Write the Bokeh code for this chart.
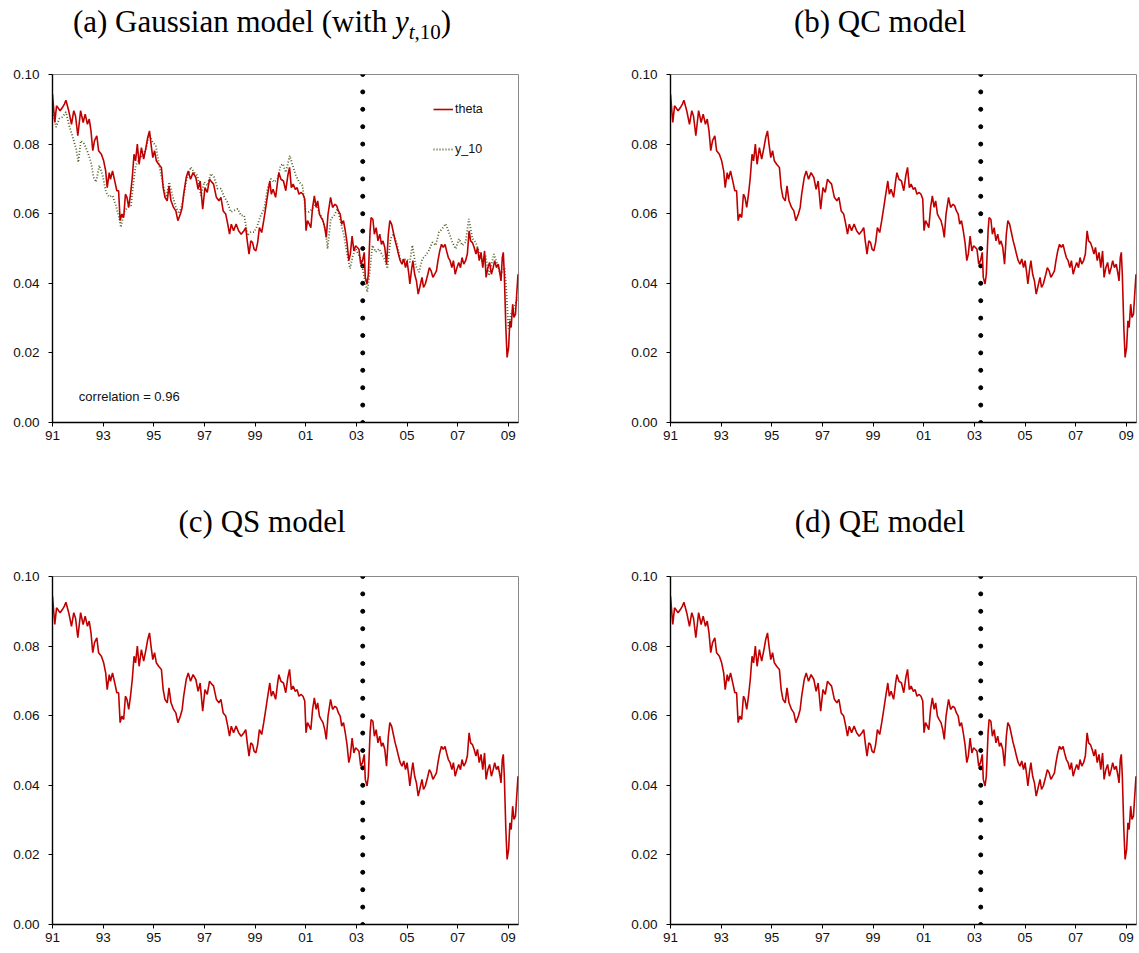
from bokeh.plotting import figure
from bokeh.models import FixedTicker, Label, Legend, LegendItem, Range1d, NumeralTickFormatter, Div
from bokeh.layouts import row, column
from bokeh.embed import file_html
from bokeh.resources import INLINE

# ---------------- data ----------------
theta_year = [
    1991.00, 1991.09, 1991.16, 1991.30, 1991.39, 1991.47, 1991.53, 1991.64, 1991.75, 1991.84,
    1991.91, 1992.00, 1992.11, 1992.21, 1992.29, 1992.38, 1992.45, 1992.52, 1992.59, 1992.66,
    1992.75, 1992.82, 1992.93, 1993.02, 1993.10, 1993.16, 1993.24, 1993.29, 1993.37, 1993.47,
    1993.54, 1993.61, 1993.67, 1993.74, 1993.81, 1993.88, 1993.94, 1994.01, 1994.08, 1994.15,
    1994.22, 1994.28, 1994.35, 1994.42, 1994.51, 1994.60, 1994.69, 1994.76, 1994.83, 1994.89,
    1994.96, 1995.03, 1995.10, 1995.19, 1995.30, 1995.37, 1995.44, 1995.53, 1995.60, 1995.68,
    1995.78, 1995.87, 1995.95, 1996.05, 1996.12, 1996.18, 1996.28, 1996.36, 1996.45, 1996.55,
    1996.66, 1996.75, 1996.83, 1996.93, 1997.02, 1997.11, 1997.20, 1997.30, 1997.36, 1997.47,
    1997.57, 1997.65, 1997.74, 1997.84, 1997.92, 1997.99, 1998.06, 1998.15, 1998.25, 1998.35,
    1998.45, 1998.56, 1998.63, 1998.69, 1998.76, 1998.83, 1998.90, 1998.96, 1999.03, 1999.10,
    1999.17, 1999.26, 1999.34, 1999.40, 1999.48, 1999.58, 1999.64, 1999.71, 1999.81, 1999.89,
    1999.94, 2000.02, 2000.12, 2000.21, 2000.29, 2000.36, 2000.43, 2000.50, 2000.59, 2000.66,
    2000.73, 2000.82, 2000.89, 2000.96, 2001.01, 2001.07, 2001.14, 2001.20, 2001.27, 2001.34,
    2001.41, 2001.47, 2001.54, 2001.61, 2001.68, 2001.75, 2001.81, 2001.88, 2001.98, 2002.06,
    2002.15, 2002.22, 2002.29, 2002.36, 2002.42, 2002.49, 2002.56, 2002.63, 2002.70, 2002.76,
    2002.83, 2002.90, 2002.97, 2003.04, 2003.10, 2003.17, 2003.24, 2003.31, 2003.35, 2003.42,
    2003.47, 2003.54, 2003.58, 2003.65, 2003.71, 2003.78, 2003.85, 2003.92, 2003.99, 2004.05,
    2004.12, 2004.19, 2004.26, 2004.32, 2004.39, 2004.46, 2004.53, 2004.60, 2004.66, 2004.73,
    2004.80, 2004.87, 2004.94, 2005.00, 2005.07, 2005.11, 2005.18, 2005.23, 2005.30, 2005.37,
    2005.44, 2005.50, 2005.59, 2005.65, 2005.72, 2005.82, 2005.88, 2005.95, 2006.02, 2006.09,
    2006.16, 2006.22, 2006.29, 2006.36, 2006.43, 2006.50, 2006.56, 2006.63, 2006.70, 2006.77,
    2006.83, 2006.90, 2006.97, 2007.04, 2007.11, 2007.17, 2007.24, 2007.31, 2007.38, 2007.45,
    2007.51, 2007.58, 2007.65, 2007.72, 2007.78, 2007.85, 2007.92, 2007.99, 2008.06, 2008.12,
    2008.19, 2008.26, 2008.33, 2008.40, 2008.46, 2008.53, 2008.60, 2008.67, 2008.71, 2008.76,
    2008.80, 2008.84, 2008.90, 2008.95, 2009.01, 2009.06, 2009.11, 2009.17, 2009.22, 2009.28,
    2009.33, 2009.38,
]
theta = [
    0.0943, 0.0862, 0.0910, 0.0896, 0.0905, 0.0915, 0.0926, 0.0896, 0.0857, 0.0896,
    0.0880, 0.0824, 0.0896, 0.0862, 0.0886, 0.0857, 0.0872, 0.0838, 0.0781, 0.0810,
    0.0824, 0.0781, 0.0771, 0.0752, 0.0723, 0.0675, 0.0718, 0.0699, 0.0723, 0.0690,
    0.0666, 0.0666, 0.0580, 0.0599, 0.0589, 0.0656, 0.0647, 0.0618, 0.0656, 0.0704,
    0.0771, 0.0752, 0.0800, 0.0742, 0.0790, 0.0757, 0.0790, 0.0819, 0.0838, 0.0800,
    0.0761, 0.0781, 0.0752, 0.0742, 0.0733, 0.0675, 0.0647, 0.0637, 0.0680, 0.0637,
    0.0618, 0.0608, 0.0580, 0.0599, 0.0618, 0.0656, 0.0704, 0.0723, 0.0699, 0.0718,
    0.0704, 0.0670, 0.0694, 0.0613, 0.0675, 0.0661, 0.0699, 0.0690, 0.0685, 0.0647,
    0.0637, 0.0647, 0.0608, 0.0599, 0.0570, 0.0541, 0.0570, 0.0551, 0.0570, 0.0551,
    0.0541, 0.0551, 0.0560, 0.0522, 0.0484, 0.0522, 0.0517, 0.0498, 0.0493, 0.0517,
    0.0560, 0.0546, 0.0580, 0.0608, 0.0647, 0.0694, 0.0656, 0.0670, 0.0647, 0.0694,
    0.0718, 0.0699, 0.0694, 0.0666, 0.0709, 0.0733, 0.0675, 0.0685, 0.0670, 0.0675,
    0.0656, 0.0661, 0.0656, 0.0642, 0.0551, 0.0580, 0.0570, 0.0560, 0.0618, 0.0651,
    0.0618, 0.0637, 0.0599, 0.0589, 0.0580, 0.0560, 0.0532, 0.0599, 0.0647, 0.0618,
    0.0627, 0.0623, 0.0608, 0.0599, 0.0570, 0.0580, 0.0551, 0.0517, 0.0465, 0.0484,
    0.0536, 0.0493, 0.0508, 0.0503, 0.0498, 0.0455, 0.0465, 0.0489, 0.0417, 0.0398,
    0.0426, 0.0551, 0.0589, 0.0584, 0.0541, 0.0560, 0.0522, 0.0541, 0.0512, 0.0522,
    0.0503, 0.0455, 0.0541, 0.0580, 0.0570, 0.0546, 0.0522, 0.0503, 0.0484, 0.0465,
    0.0455, 0.0470, 0.0445, 0.0465, 0.0426, 0.0398, 0.0441, 0.0465, 0.0426, 0.0407,
    0.0369, 0.0388, 0.0417, 0.0388, 0.0398, 0.0426, 0.0445, 0.0436, 0.0417, 0.0426,
    0.0436, 0.0465, 0.0493, 0.0512, 0.0503, 0.0512, 0.0493, 0.0474, 0.0465, 0.0445,
    0.0465, 0.0426, 0.0445, 0.0460, 0.0445, 0.0474, 0.0455, 0.0465, 0.0484, 0.0551,
    0.0522, 0.0517, 0.0503, 0.0484, 0.0503, 0.0465, 0.0489, 0.0445, 0.0493, 0.0417,
    0.0445, 0.0460, 0.0426, 0.0445, 0.0465, 0.0445, 0.0455, 0.0426, 0.0407, 0.0474,
    0.0489, 0.0426, 0.0273, 0.0187, 0.0216, 0.0292, 0.0273, 0.0340, 0.0302, 0.0311,
    0.0369, 0.0426,
]

y10_year = [
    1991.01, 1991.14, 1991.27, 1991.40, 1991.53, 1991.66, 1991.80, 1991.93, 1992.02, 1992.12,
    1992.25, 1992.39, 1992.52, 1992.62, 1992.72, 1992.85, 1992.98, 1993.11, 1993.24, 1993.37,
    1993.50, 1993.64, 1993.70, 1993.83, 1993.97, 1994.10, 1994.20, 1994.29, 1994.42, 1994.56,
    1994.69, 1994.82, 1994.95, 1995.08, 1995.21, 1995.35, 1995.48, 1995.61, 1995.74, 1995.87,
    1996.00, 1996.14, 1996.27, 1996.46, 1996.59, 1996.72, 1996.86, 1996.99, 1997.12, 1997.25,
    1997.38, 1997.52, 1997.65, 1997.78, 1997.91, 1998.04, 1998.17, 1998.31, 1998.44, 1998.57,
    1998.70, 1998.83, 1998.96, 1999.09, 1999.22, 1999.36, 1999.49, 1999.62, 1999.75, 1999.88,
    2000.01, 2000.10, 2000.21, 2000.37, 2000.48, 2000.61, 2000.74, 2000.87, 2001.00, 2001.13,
    2001.26, 2001.39, 2001.52, 2001.66, 2001.79, 2001.86, 2001.99, 2002.12, 2002.25, 2002.38,
    2002.51, 2002.64, 2002.75, 2002.86, 2002.97, 2003.17, 2003.30, 2003.43, 2003.54, 2003.63,
    2003.76, 2003.89, 2004.03, 2004.16, 2004.22, 2004.35, 2004.46, 2004.59, 2004.72, 2004.85,
    2004.98, 2005.11, 2005.21, 2005.34, 2005.47, 2005.60, 2005.73, 2005.86, 2006.00, 2006.13,
    2006.26, 2006.39, 2006.52, 2006.65, 2006.79, 2006.92, 2007.05, 2007.18, 2007.31, 2007.44,
    2007.58, 2007.71, 2007.84, 2007.97, 2008.10, 2008.23, 2008.43, 2008.69, 2008.85, 2008.92,
    2009.00, 2009.09, 2009.22, 2009.38,
]
y10 = [
    0.0901, 0.0849, 0.0873, 0.0878, 0.0892, 0.0853, 0.0820, 0.0787, 0.0748, 0.0810,
    0.0801, 0.0777, 0.0748, 0.0705, 0.0691, 0.0739, 0.0710, 0.0662, 0.0648, 0.0652,
    0.0624, 0.0585, 0.0561, 0.0605, 0.0619, 0.0624, 0.0691, 0.0739, 0.0758, 0.0767,
    0.0787, 0.0830, 0.0806, 0.0796, 0.0739, 0.0691, 0.0643, 0.0691, 0.0652, 0.0619,
    0.0600, 0.0633, 0.0691, 0.0734, 0.0719, 0.0710, 0.0652, 0.0691, 0.0681, 0.0715,
    0.0705, 0.0672, 0.0672, 0.0648, 0.0633, 0.0605, 0.0609, 0.0614, 0.0595, 0.0595,
    0.0537, 0.0547, 0.0547, 0.0566, 0.0595, 0.0614, 0.0672, 0.0700, 0.0691, 0.0700,
    0.0739, 0.0743, 0.0719, 0.0767, 0.0739, 0.0710, 0.0691, 0.0681, 0.0605, 0.0605,
    0.0614, 0.0633, 0.0605, 0.0585, 0.0547, 0.0499, 0.0585, 0.0595, 0.0614, 0.0576,
    0.0537, 0.0480, 0.0442, 0.0480, 0.0499, 0.0470, 0.0422, 0.0375, 0.0442, 0.0509,
    0.0490, 0.0499, 0.0480, 0.0461, 0.0442, 0.0528, 0.0542, 0.0518, 0.0470, 0.0466,
    0.0470, 0.0461, 0.0509, 0.0451, 0.0432, 0.0470, 0.0480, 0.0494, 0.0518, 0.0509,
    0.0547, 0.0557, 0.0571, 0.0547, 0.0518, 0.0499, 0.0528, 0.0509, 0.0518, 0.0585,
    0.0528, 0.0518, 0.0490, 0.0461, 0.0480, 0.0422, 0.0484, 0.0426, 0.0445, 0.0380,
    0.0270, 0.0310, 0.0330, 0.0360,
]

x_ticks = [1991, 1993, 1995, 1997, 1999, 2001, 2003, 2005, 2007, 2009]
x_tick_labels = ["91", "93", "95", "97", "99", "01", "03", "05", "07", "09"]
y_ticks = [0.0, 0.02, 0.04, 0.06, 0.08, 0.10]
break_year = 2003.25
break_dots = [i * 0.005 for i in range(21)]
correlation = 0.96
title_a = "(a) Gaussian model (with <i>y</i><sub style='font-size:21px'><i>t</i>,10</sub>)"
titles = ["(b) QC model", "(c) QS model", "(d) QE model"]

X0, X1 = 1991.0, 2009.4
RED = "#C00000"
GREEN = "#4F6228"
SANS = "Liberation Sans"
SERIF = "Liberation Serif"


def make_panel(width, height, bl, br, bt, bb):
    p = figure(width=width, height=height, output_backend="svg", toolbar_location=None,
               tools="", x_range=Range1d(X0, X1), y_range=Range1d(0, 0.1))
    p.margin = 0
    p.min_border_left = bl
    p.min_border_right = br
    p.min_border_top = bt
    p.min_border_bottom = bb
    p.xgrid.visible = False
    p.ygrid.visible = False
    p.outline_line_color = "#8a8a8a"
    p.outline_line_width = 1
    p.background_fill_color = "white"
    p.border_fill_color = "white"
    for ax in (p.xaxis[0], p.yaxis[0]):
        ax.axis_line_color = "black"
        ax.axis_line_width = 1.4
        ax.major_tick_line_color = "black"
        ax.major_tick_line_width = 1
        ax.major_tick_in = 0
        ax.major_tick_out = 4
        ax.minor_tick_line_color = None
        ax.major_label_text_font = SANS
        ax.major_label_text_font_size = "13.5px"
        ax.major_label_text_color = "#111111"
    p.xaxis.ticker = FixedTicker(ticks=x_ticks)
    p.xaxis.major_label_overrides = dict(zip(x_ticks, x_tick_labels))
    p.xaxis.major_label_standoff = 4
    p.yaxis.ticker = FixedTicker(ticks=y_ticks)
    p.yaxis.formatter = NumeralTickFormatter(format="0.00")
    p.yaxis.major_label_standoff = 9
    # vertical dotted break line
    p.scatter(x=[break_year] * len(break_dots), y=break_dots, size=4, color="black")
    return p


def title_div(html, width, height, center, pad_top):
    inner = (f"<div style=\"margin-left:{center - 250}px;width:500px;text-align:center;"
             f"padding-top:{pad_top}px;font-family:'{SERIF}',serif;font-size:31px;"
             f"line-height:31px;white-space:nowrap;color:#000;\">{html}</div>")
    return Div(text=inner, width=width, height=height, margin=0)


# ---------- panel (a) ----------
pa = make_panel(600, 426, 52, 82, 30, 48)
r_y10 = pa.line(y10_year, y10, line_color=GREEN, line_width=1.8, line_dash="1 2")
r_th = pa.line(theta_year, theta, line_color=RED, line_width=1.6)
legend = Legend(items=[LegendItem(label="theta", renderers=[r_th]),
                       LegendItem(label="y_10", renderers=[r_y10])],
                location=(381, 263), orientation="vertical", padding=0, margin=0,
                spacing=20, glyph_width=20, glyph_height=20, label_height=20,
                label_standoff=2, border_line_color=None, background_fill_alpha=0,
                label_text_font=SANS, label_text_font_size="12.5px", label_text_color="#111111")
pa.add_layout(legend)
pa.add_layout(Label(x=1992.04, y=0.0074, text=f"correlation = {correlation:.2f}",
                    text_font=SANS, text_font_size="13px", text_color="#111111",
                    text_baseline="alphabetic"))
div_a = title_div(title_a, 600, 44, 262, 6)

# ---------- panels (b), (c), (d) ----------
pb = make_panel(539, 426, 70, 3, 30, 48)
pb.line(theta_year, theta, line_color=RED, line_width=1.6)
div_b = title_div(titles[0], 539, 44, 280, 6)

pc = make_panel(600, 407, 52, 82, 30, 29)
pc.line(theta_year, theta, line_color=RED, line_width=1.6)
div_c = title_div(titles[1], 600, 76, 262, 36)

pd = make_panel(539, 407, 70, 3, 30, 29)
pd.line(theta_year, theta, line_color=RED, line_width=1.6)
div_d = title_div(titles[2], 539, 76, 280, 36)

layout = column(row(column(div_a, pa, spacing=0), column(div_b, pb, spacing=0), spacing=0),
                row(column(div_c, pc, spacing=0), column(div_d, pd, spacing=0), spacing=0),
                spacing=0)
open("out.html", "w").write(file_html(layout, INLINE))
